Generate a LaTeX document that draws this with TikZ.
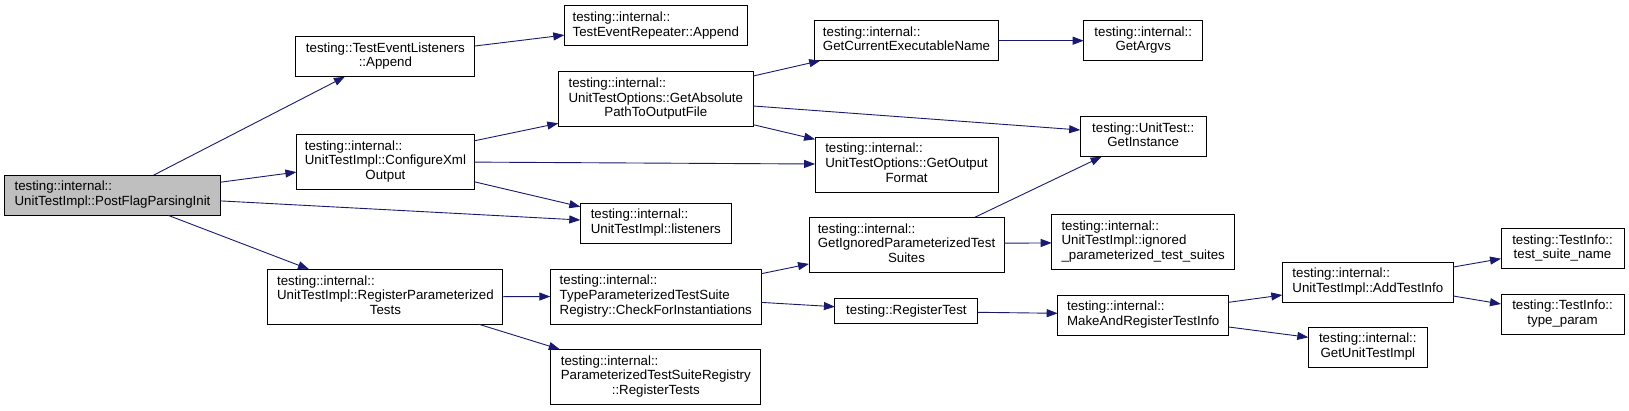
\documentclass[tikz,border=0pt]{standalone}
\usepackage{fontspec}
\setmainfont{Liberation Sans}
\usetikzlibrary{arrows.meta,calc}
\definecolor{edgec}{HTML}{191970}
\definecolor{grayfill}{HTML}{BFBFBF}
\newcommand{\mylbl}[1]{\begin{tabular}{@{}l@{}}#1\end{tabular}}
\newcommand{\mylast}[1]{\multicolumn{1}{@{}c@{}}{#1}}
\begin{document}
\begin{tikzpicture}[x=1pt,y=-1pt,
  box/.style={draw=black,line width=1pt,fill=white,inner sep=0pt,outer sep=0pt,
    font=\fontsize{13.3}{14.6}\selectfont},
  h1/.style={minimum height=25},
  h2/.style={minimum height=40},
  h3/.style={minimum height=55},
  e/.style={draw=edgec,line width=0.9pt,-{Triangle[length=11pt,width=8pt]}}]
\useasboundingbox (0,0) rectangle (1629,410);
% column 1
\node[box,h2,fill=grayfill,minimum width=216] (post) at (112.5,195.2)
  {\mylbl{testing::internal::\\\mylast{UnitTestImpl::PostFlagParsingInit}}};
% column 2
\node[box,h2,minimum width=179] (tel) at (385.4,56.7)
  {\mylbl{testing::TestEventListeners\\\mylast{::Append}}};
\node[box,h3,minimum width=178] (cfg) at (385.4,162)
  {\mylbl{testing::internal::\\UnitTestImpl::ConfigureXml\\\mylast{Output}}};
\node[box,h3,minimum width=235] (rpt) at (385.4,296.7)
  {\mylbl{testing::internal::\\UnitTestImpl::RegisterParameterized\\\mylast{Tests}}};
% column 3
\node[box,h2,minimum width=183] (ter) at (655.8,25.8)
  {\mylbl{testing::internal::\\\mylast{TestEventRepeater::Append}}};
\node[box,h3,minimum width=195] (gap) at (655.8,99.2)
  {\mylbl{testing::internal::\\UnitTestOptions::GetAbsolute\\\mylast{PathToOutputFile}}};
\node[box,h2,minimum width=151] (lis) at (655.8,223)
  {\mylbl{testing::internal::\\\mylast{UnitTestImpl::listeners}}};
\node[box,h3,minimum width=211] (cfi) at (655.8,296.5)
  {\mylbl{testing::internal::\\TypeParameterizedTestSuite\\\mylast{Registry::CheckForInstantiations}}};
\node[box,h3,minimum width=210] (prt) at (655.8,376.8)
  {\mylbl{testing::internal::\\ParameterizedTestSuiteRegistry\\\mylast{::RegisterTests}}};
% column 4
\node[box,h2,minimum width=184] (gcen) at (906.5,40.7)
  {\mylbl{testing::internal::\\\mylast{GetCurrentExecutableName}}};
\node[box,h3,minimum width=183] (gof) at (906.6,164.5)
  {\mylbl{testing::internal::\\UnitTestOptions::GetOutput\\\mylast{Format}}};
\node[box,h3,minimum width=195] (gipts) at (906.5,244.7)
  {\mylbl{testing::internal::\\GetIgnoredParameterizedTest\\\mylast{Suites}}};
\node[box,h1,minimum width=143] (rt) at (906.4,311.2)
  {testing::RegisterTest};
% column 5
\node[box,h2,minimum width=119] (argv) at (1143.2,40.7)
  {\mylbl{testing::internal::\\\mylast{GetArgvs}}};
\node[box,h2,minimum width=126] (gi) at (1143.2,136.7)
  {\mylbl{testing::UnitTest::\\\mylast{GetInstance}}};
\node[box,h3,minimum width=183] (ign) at (1143.2,241.8)
  {\mylbl{testing::internal::\\UnitTestImpl::ignored\\\mylast{\_parameterized\_test\_suites}}};
\node[box,h2,minimum width=171] (mart) at (1143.2,315.3)
  {\mylbl{testing::internal::\\\mylast{MakeAndRegisterTestInfo}}};
% column 6
\node[box,h2,minimum width=171] (ati) at (1367.8,282)
  {\mylbl{testing::internal::\\\mylast{UnitTestImpl::AddTestInfo}}};
\node[box,h2,minimum width=119] (guti) at (1367.8,347)
  {\mylbl{testing::internal::\\\mylast{GetUnitTestImpl}}};
% column 7
\node[box,h2,minimum width=123] (tsn) at (1562.5,248.7)
  {\mylbl{testing::TestInfo::\\\mylast{test\_suite\_name}}};
\node[box,h2,minimum width=123] (tp) at (1562.5,314)
  {\mylbl{testing::TestInfo::\\\mylast{type\_param}}};
% edges
\draw[e] ($(post.north west)+(149,0)$) -- ($(tel.south west)+(49,0)$);
\draw[e] ($(post.north east)+(0,7)$) -- ($(cfg.north west)+(0,37.6)$);
\draw[e] ($(post.north east)+(0,25.7)$) -- ($(lis.north west)+(0,17)$);
\draw[e] ($(post.south west)+(163.3,0)$) -- ($(rpt.north west)+(41.1,0)$);
\draw[e] ($(tel.north east)+(0,9.3)$) -- ($(ter.north west)+(0,29.3)$);
\draw[e] ($(cfg.north east)+(0,6.3)$) -- ($(gap.north west)+(0,51.6)$);
\draw[e] ($(cfg.north east)+(0,27.6)$) -- ($(gof.north west)+(0,27)$);
\draw[e] ($(cfg.north east)+(0,47.3)$) -- ($(lis.north west)+(0,3.7)$);
\draw[e] (rpt.east) -- (cfi.west);
\draw[e] ($(rpt.south west)+(210.7,0)$) -- ($(prt.north west)+(9,0)$);
\draw[e] ($(gap.north east)+(0,4.3)$) -- ($(gcen.south west)+(5.7,0)$);
\draw[e] ($(gap.north east)+(0,34.3)$) -- ($(gi.north west)+(0,13.3)$);
\draw[e] ($(gap.north east)+(0,53)$) -- ($(gof.north west)+(0,2.3)$);
\draw[e] ($(cfi.north east)+(0,4.7)$) -- ($(gipts.north west)+(0,46.7)$);
\draw[e] ($(cfi.north east)+(0,33.4)$) -- ($(rt.north west)+(0,8)$);
\draw[e] (gcen.east) -- (argv.west);
\draw[e] ($(gipts.north west)+(166,0)$) -- ($(gi.south west)+(21.4,0)$);
\draw[e] ($(gipts.north east)+(0,26)$) -- ($(ign.north west)+(0,28.6)$);
\draw[e] ($(rt.north east)+(0,13.6)$) -- ($(mart.north west)+(0,18)$);
\draw[e] ($(mart.north east)+(0,7)$) -- ($(ati.north west)+(0,33)$);
\draw[e] ($(mart.north east)+(0,31.7)$) -- ($(guti.north west)+(0,10.3)$);
\draw[e] ($(ati.north east)+(0,5)$) -- ($(tsn.north west)+(0,30)$);
\draw[e] ($(ati.north east)+(0,34)$) -- ($(tp.north west)+(0,10)$);
\end{tikzpicture}
\end{document}
